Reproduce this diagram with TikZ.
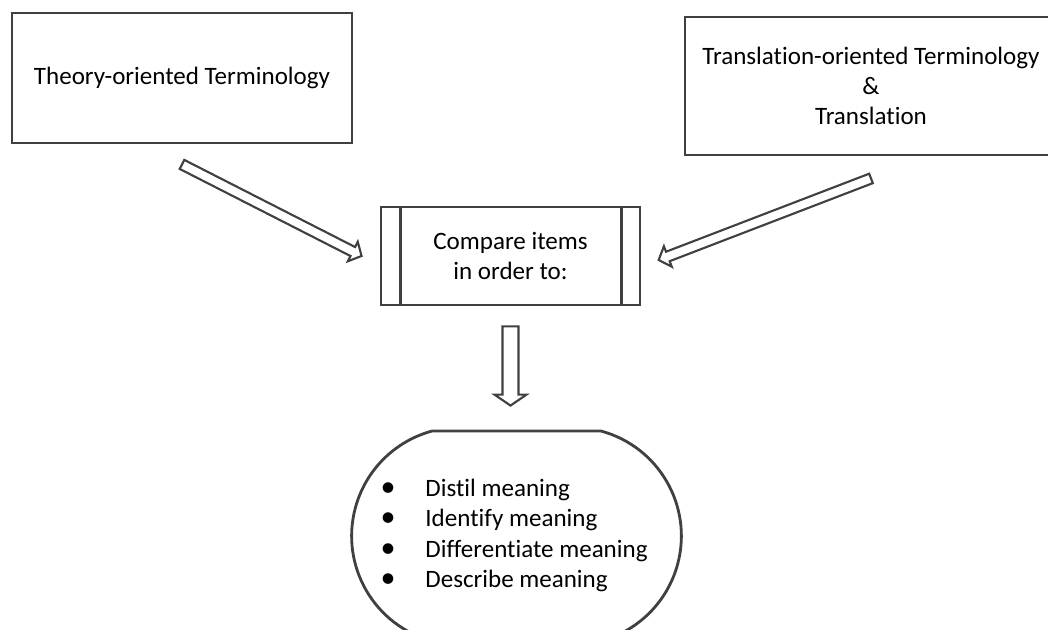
\documentclass[tikz,border=0pt]{standalone}
\usepackage{fontspec}
\setmainfont{Carlito}[Ligatures=NoCommon]
\usetikzlibrary{calc,shapes.misc}

\definecolor{ink}{HTML}{404040}
\newcommand{\diagfont}{\fontsize{17.8}{21.6}\selectfont}
\newcommand{\bulletitem}[1]{\makebox[1cm][l]{\kern-0.12cm\scalebox{1.2}{\textbullet}}#1}

% hollow block arrow: from, to, half shaft, half head, head length
\newcommand{\hollowarrow}[5]{%
  \draw[arrowline] let \p1=($(#2)-(#1)$), \n1={atan2(\y1,\x1)}, \n2={veclen(\x1,\y1)} in
    [shift={(#1)}, rotate=\n1]
    (0pt,#3) -- (\n2-#5,#3) -- (\n2-#5,#4) -- (\n2,0pt)
    -- (\n2-#5,-#4) -- (\n2-#5,-#3) -- (0pt,-#3) -- cycle;}

\tikzset{
  boxline/.style={draw=ink, line width=2pt},
  arrowline/.style={draw=ink, line width=1.5pt, fill=white, line join=miter},
  termbox/.style={boxline, rectangle, align=center, font=\diagfont},
}

\begin{document}
\begin{tikzpicture}[x=0.025cm, y=-0.025cm]
  \useasboundingbox (0,0) rectangle (1048,630);

  \node[termbox, minimum width=8.5cm, minimum height=3.25cm] (theory) at (182,78) {Theory-oriented Terminology};
  \node[termbox, minimum width=9.3cm, minimum height=3.45cm] (transl) at (871,86) {Translation-oriented Terminology\\ \&\\ Translation};
  \node[termbox, minimum width=6.475cm, minimum height=2.45cm] (compare) at (510.5,256) {Compare items\\ in order to:};
  \draw[boxline] ([xshift=0.525cm]compare.north west) -- ([xshift=0.525cm]compare.south west);
  \draw[boxline] ([xshift=-0.5cm]compare.north east) -- ([xshift=-0.5cm]compare.south east);

  \node[boxline, rounded rectangle, rounded rectangle arc length=150,
        minimum width=8.475cm, minimum height=5.25cm, font=\diagfont] (goals) at (516.5,536)
    {\begin{tabular}{@{}l@{}}
      \bulletitem{Distil meaning}\\
      \bulletitem{Identify meaning}\\
      \bulletitem{Differentiate meaning}\\
      \bulletitem{Describe meaning}
    \end{tabular}};

  \coordinate (dntip) at ($(compare.south |- goals.north)+(0,-24)$);

  % arrows
  \hollowarrow{[yshift=-0.5cm]theory.south}{[xshift=-0.45cm]compare.west}{3.6pt}{7.8pt}{7pt}
  \hollowarrow{[yshift=-0.55cm]transl.south}{[xshift=0.43cm,yshift=-0.1cm]compare.east}{3.6pt}{7.8pt}{7pt}
  \hollowarrow{[yshift=-0.5cm]compare.south}{dntip}{5.7pt}{11.4pt}{7.8pt}
\end{tikzpicture}
\end{document}
